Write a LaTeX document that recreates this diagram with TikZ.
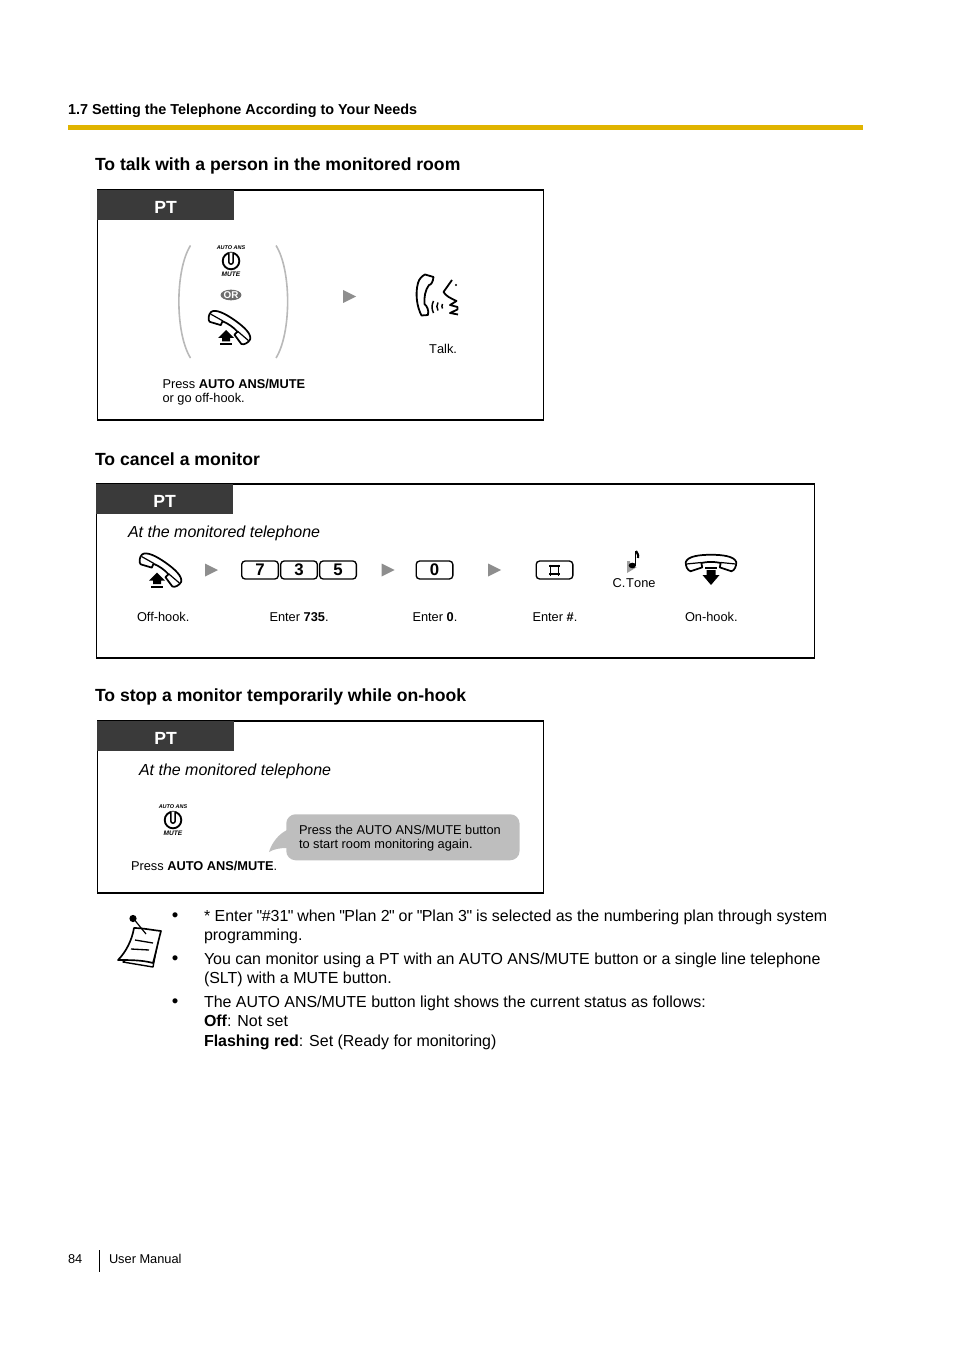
\documentclass[tikz,border=0pt]{standalone}
\usepackage{fontspec}
\setmainfont{Liberation Sans}[Ligatures=TeXOff]
\usetikzlibrary{positioning,calc,shapes.geometric}

\definecolor{barYellow}{HTML}{E0B400}
\definecolor{tabDark}{HTML}{3A3A3A}
\definecolor{stepGray}{HTML}{8E8E8E}
\definecolor{bubbleGray}{HTML}{BEBEBE}
\definecolor{parenGray}{HTML}{B9B9B9}
\definecolor{orGray}{HTML}{6E6E6E}

\newcommand{\fsize}[1]{\fontsize{#1}{#1}\selectfont}
\newcommand{\stq}{\kern-0.4pt"\kern-0.45pt}

\tikzset{
  txt/.style={inner sep=0pt, outer sep=0pt, anchor=base west},
  heading/.style={txt, font=\fsize{13.2}\bfseries},
  small/.style={txt, font=\fsize{9.6}},
  body/.style={txt, font=\fsize{11.97}},
  dot/.style={txt, font=\fsize{14}},
  panel/.style={draw=black, line width=1.15pt, anchor=north west, inner sep=0pt, outer sep=0pt},
  tabhead/.style={fill=tabDark, text=white, font=\fsize{13.2}\bfseries, anchor=north west, inner sep=0pt, outer sep=0pt,
    text height=12.8pt, minimum width=102.5pt, minimum height=22.5pt},
  keycap/.style={draw=black, line width=1pt, rounded corners=2.6pt, inner sep=0pt,
    minimum width=27.5pt, minimum height=13.5pt, font=\fsize{12.6}\bfseries},
  btnlabel/.style={inner sep=0pt, font=\fsize{4.1}\bfseries\itshape},
  nextarrow/.pic={\fill[stepGray] (-6.5,-6.5) -- (6.5,0) -- (-6.5,6.5) -- cycle;},
  handset/.pic={
    \draw[line width=1.3pt, fill=white, line join=round]
      (-26,-1) .. controls (-24,-7) and (-12,-8.5) .. (0,-8.5)
      .. controls (12,-8.5) and (24,-7) .. (26,-1)
      .. controls (26.5,3) and (24,8) .. (21,8.5) -- (9,4.5) -- (10,0)
      .. controls (4,-1.5) and (-4,-1.5) .. (-10,0) -- (-9,4.5) -- (-21,8.5)
      .. controls (-24,8) and (-26.5,3) .. cycle;
    \draw[line width=0.9pt] (-25,1) -- (-10,-0.5) (25,1) -- (10,-0.5);
  },
  offhook/.pic={
    \pic[rotate=-35, scale=0.92] at (0,0) {handset};
    \fill[black] (-4,3.5) -- (4,11.5) -- (0,11.5) -- (0,15) -- (-8,15) -- (-8,11.5) -- (-12,11.5) -- cycle;
    \fill[black] (-10,16.5) rectangle (2,18.5);
  },
  onhook/.pic={
    \pic[scale=0.97] at (0,0) {handset};
    \fill[black] (-6,4) rectangle (6,6);
    \fill[black] (-4.5,7) -- (4.5,7) -- (4.5,12) -- (8.5,12) -- (0,22) -- (-8.5,12) -- (-4.5,12) -- cycle;
  },
  autobutton/.pic={
    \draw[line width=1.4pt] (0,0) circle (8.3);
    \draw[line width=1.1pt, fill=white] (-2.2,-8.3) -- (-2.2,1) arc (180:0:2.2 and 2.2) -- (2.2,-8.3);
    \node[btnlabel] (-autoans) at (0,-13.6) {AUTO ANS};
    \node[btnlabel, font=\fsize{4.9}\bfseries\itshape] (-mute) at (0,13.2) {MUTE};
  },
  hashmark/.pic={
    \draw[line width=1.35pt] (-5.5,-4) -- (5.5,-4) (-5.5,4) -- (5.5,4) (-4,-5.5) -- (-4,5.5) (4,-5.5) -- (4,5.5);
  }
}

\begin{document}
\begin{tikzpicture}[x=0.75pt,y=-0.75pt]
\useasboundingbox (0,0) rectangle (954,1351);

% ---------- page head ----------
\node[txt, font=\fsize{10.8}\bfseries] (headline) at (68,115) {1.7 Setting the Telephone According to Your Needs};
\fill[barYellow] (68,125) rectangle (863,130);

% ---------- talk ----------
\node[heading] (talktitle) at (95,171) {To talk with a person in the monitored room};
\node[panel, minimum width=334.5pt, minimum height=172.5pt] (talkpanel) at (97.3,190) {};
\node[tabhead] (talktab) at (talkpanel.north west) {PT};

\draw[parenGray, line width=1.2pt] (190.5,245.5) .. controls (175,270) and (175,333) .. (190.5,358);
\draw[parenGray, line width=1.2pt] (276,245.5) .. controls (291.5,270) and (291.5,333) .. (276,358);
\pic (talkbtn) at (231,261) {autobutton};
\node[ellipse, fill=orGray, text=white, inner sep=0pt, minimum width=15.5pt, minimum height=8pt, font=\fsize{7.4}\bfseries] (ornode) at (231,295) {OR};
\pic (talkhook) at (230,326.5) {offhook};
\pic (talkarr) at (349.5,296.5) {nextarrow};

% talking handset and face
\draw[line width=1.35pt, line join=round] (425,274.5) -- (433.5,277) .. controls (433,282) and (431,285) .. (429,285)
  .. controls (425,290) and (424,298) .. (424.5,304) .. controls (427,306) and (429,310) .. (428,315)
  -- (421.5,315.5) .. controls (417,307) and (415,294) .. (418,283) .. controls (419,279) and (422,276) .. (425,274.5) -- cycle;
\draw[line width=1.35pt, line join=round] (452,280) -- (443.5,292) .. controls (446,296) and (450,298) .. (456.5,301)
  -- (450,305) -- (457.5,307) -- (457.5,309.5) -- (450,313) -- (458,314.5);
\fill (456,285) circle (1.2);
\draw[line width=1.1pt] (433.5,301) .. controls (431.5,305) and (431.5,309) .. (433.5,313);
\draw[line width=1.1pt] (438,302.5) .. controls (436.5,305) and (436.5,308) .. (438,310.5);
\draw[line width=1.1pt] (442.5,304) .. controls (441.7,305.5) and (441.7,307) .. (442.5,308.5);

\node[small] (talklabel) at (429,353.5) {T\kern0.2pt alk.};
\node[small] (presslabel) at (162.5,388.5) {Press \textbf{AUTO ANS/MUTE}};
\node[small] (presslabelb) at (162.5,402.5) {or go off-hook.};

% ---------- cancel ----------
\node[heading] (canceltitle) at (95,465) {To cancel a monitor};
\node[panel, minimum width=538.5pt, minimum height=130.5pt] (cancelpanel) at (96.3,484) {};
\node[tabhead] (canceltab) at (cancelpanel.north west) {PT\hspace{2pt}};
\node[txt, font=\fsize{12}\itshape] (cancelwhere) at (128,537) {At the monitored telephone};

\pic (cancelhook) at (161,569) {offhook};
\pic (cancelarra) at (211.5,570) {nextarrow};
\node[keycap] (keyseven) at (260,570) {7};
\node[keycap] (keythree) at (299,570) {3};
\node[keycap] (keyfive) at (338,570) {5};
\pic (cancelarrb) at (388,570) {nextarrow};
\node[keycap] (keyzero) at (434.5,570) {0};
\pic (cancelarrc) at (494.5,570) {nextarrow};
\node[keycap] (keyhash) at (554.5,570) {};
\pic at (keyhash.center) {hashmark};

% confirmation tone
\fill[stepGray!85] (627,561) -- (627,573) -- (637,567) -- (630.5,568) -- (630,561) -- cycle;
\draw[line width=1.1pt] (635.7,551) -- (635.7,565);
\fill (632.3,565.5) ellipse (3.6 and 2.8);
\draw[line width=1.6pt] (636,551) .. controls (636.5,553) and (639,554) .. (638,558);
\node[small] (tonelabel) at (612.5,587) {C.\kern0.7pt T\kern0.1pt one};

\pic (cancelhang) at (711,563) {onhook};

\node[small] (offlabel) at (137,621) {Off-hook.};
\node[small] (entera) at (269.5,621) {Enter \textbf{735}.};
\node[small] (enterb) at (412.5,621) {Enter \textbf{0}.};
\node[small] (enterc) at (532.5,621) {Enter \textbf{\#}.};
\node[small] (onlabel) at (685,621) {On-hook.};

% ---------- stop ----------
\node[heading] (stoptitle) at (95,701) {To stop a monitor temporarily while on-hook};
\node[panel, minimum width=334.5pt, minimum height=129pt] (stoppanel) at (97.3,721) {};
\node[tabhead] (stoptab) at (stoppanel.north west) {PT};
\node[txt, font=\fsize{12}\itshape] (stopwhere) at (139,775) {At the monitored telephone};
\pic (stopbtn) at (173,820) {autobutton};
\node[small] (stoplabel) at (131,870) {Press \textbf{AUTO ANS/MUTE}.};

\fill[bubbleGray] (287,830) .. controls (279,834) and (272,842) .. (269,852) .. controls (274,849) and (280,848) .. (287,848) -- cycle;
\node[fill=bubbleGray, rounded corners=7pt, inner sep=0pt, minimum width=175pt, minimum height=34.5pt, anchor=north west] (callout) at (286,814) {};
\node[small] (callouta) at (299,834) {Press the AUTO ANS/MUTE button};
\node[small] (calloutb) at (299,848) {to start room monitoring again.};

% ---------- notes ----------
\fill[white, draw=black, line width=1.05pt, line join=round] (123,962) -- (153,967) -- (159,936) -- (156,934) -- cycle;
\draw[fill=white, line width=1.25pt, line join=round] (134,928) .. controls (142,928) and (152,930) .. (161,931)
  .. controls (158,942) and (156,952) .. (153,963) .. controls (142,960) and (130,960) .. (118,960)
  .. controls (126,952) and (132,940) .. (134,928) -- cycle;
\draw[line width=0.9pt] (133,918) -- (146,934);
\fill (133,918.5) circle (3.6);
\draw[line width=1pt] (135,940) -- (153,943) (131,949) -- (149,950);

\foreach \ypos in {921.5,964.5,1007.5}
  \node[dot] at (171.8,\ypos) {•};
\node[body] (notea) at (204,921) {* Enter \stq\#31\stq\ when \stq Plan 2\stq\ or \stq Plan 3\stq\ is selected as the numbering plan through system};
\node[body] (noteab) at (204,940) {programming.};
\node[body] (noteb) at (204,964) {You can monitor using a PT with an AUTO ANS/MUTE button or a single line telephone};
\node[body] (notebb) at (204,983) {(SLT) with a MUTE button.};
\node[body] (notec) at (204,1007) {The AUTO ANS/MUTE button light shows the current status as follows:};
\node[body] (notecb) at (204,1026) {\textbf{Off}: Not set};
\node[body] (notecc) at (204,1046) {\textbf{Flashing red}: Set (Ready for monitoring)};

% ---------- footer ----------
\node[small] (pageno) at (68,1263) {84};
\draw[line width=0.7pt] (99.5,1250) -- (99.5,1272);
\node[small] (manual) at (109,1263) {User Manual};

\end{tikzpicture}
\end{document}
